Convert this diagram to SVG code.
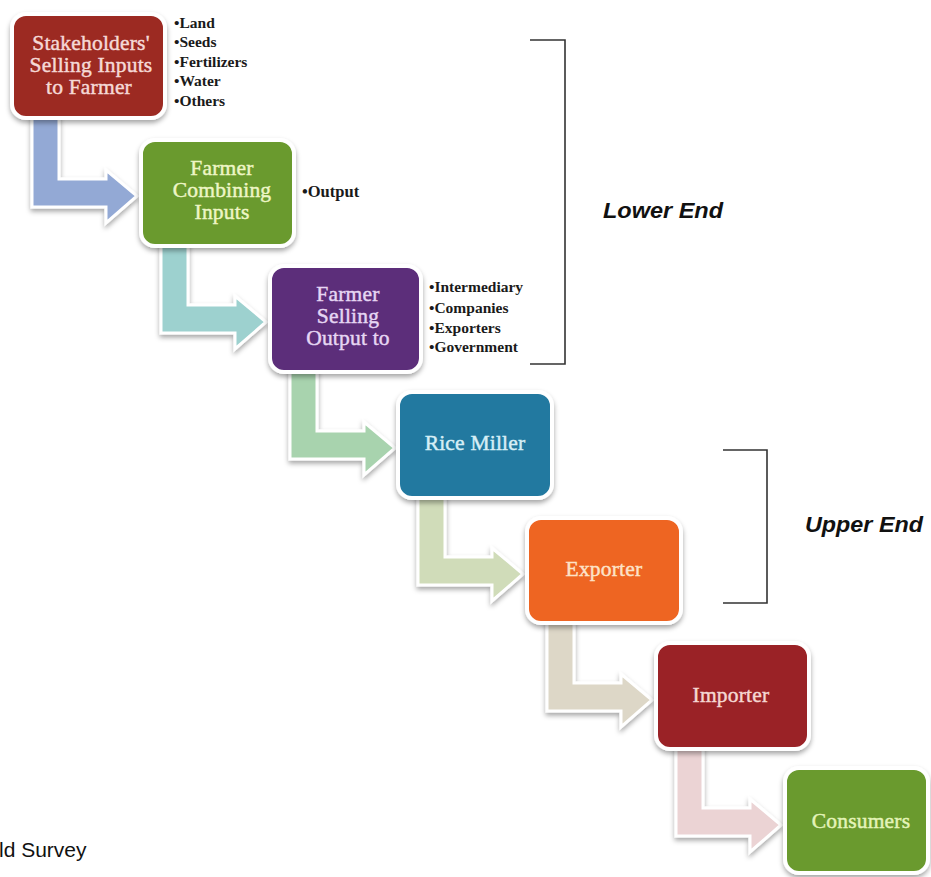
<svg xmlns="http://www.w3.org/2000/svg" xmlns:xlink="http://www.w3.org/1999/xlink" width="931" height="877" viewBox="0 0 931 877">
<style>
.box{stroke:#ffffff;stroke-width:4;filter:url(#sh)}
.arr{stroke:#ffffff;stroke-width:3;stroke-linejoin:miter;filter:url(#sh)}
.nt{font-family:"Liberation Serif","DejaVu Serif",serif;font-size:21.5px;text-anchor:middle;stroke-width:0.45;letter-spacing:0.2px}
.li{font-family:"Liberation Serif","DejaVu Serif",serif;font-size:15.5px;font-weight:bold;fill:#1a1a1a}
.br{fill:none;stroke:#333333;stroke-width:1.6}
.lab{font-family:"Liberation Sans",Arial,sans-serif;font-size:22px;font-weight:bold;font-style:italic;fill:#111111}
</style>
<defs>
<filter id="sh" x="-20%" y="-20%" width="140%" height="150%">
<feDropShadow dx="0" dy="3" stdDeviation="2.5" flood-color="#000000" flood-opacity="0.35"/>
</filter>
<path id="arrow" d="M20,100 H47 V165 H94 V156 L125,182 L94,209 V193 H20 Z"/>
</defs>
<rect width="931" height="877" fill="#ffffff"/>

<g id="connectors">
<use xlink:href="#arrow" class="arr" fill="#93a9d5" transform="translate(12,14)"/>
<use xlink:href="#arrow" class="arr" fill="#9dd1cf" transform="translate(141,140)"/>
<use xlink:href="#arrow" class="arr" fill="#a8d3ae" transform="translate(270,266)"/>
<use xlink:href="#arrow" class="arr" fill="#d0dcb9" transform="translate(398,392)"/>
<use xlink:href="#arrow" class="arr" fill="#ddd7c7" transform="translate(527,518)"/>
<use xlink:href="#arrow" class="arr" fill="#ebd3d4" transform="translate(656,643)"/>
</g>

<g id="n1">
<rect class="box" x="12" y="14" width="153" height="104" rx="14" fill="#9c2a24"/>
<text class="nt" fill="#f5d9d6" stroke="#f5d9d6"><tspan x="91" y="50">Stakeholders'</tspan><tspan x="91" y="72">Selling Inputs</tspan><tspan x="89" y="94">to Farmer</tspan></text>
</g>
<g id="n1-list">
<text class="li"><tspan x="174" y="28">•Land</tspan><tspan x="174" y="47">•Seeds</tspan><tspan x="174" y="67">•Fertilizers</tspan><tspan x="174" y="86">•Water</tspan><tspan x="174" y="106">•Others</tspan></text>
</g>

<g id="n2">
<rect class="box" x="141" y="140" width="153" height="106" rx="14" fill="#6a9a2e"/>
<text class="nt" fill="#eef6c6" stroke="#eef6c6"><tspan x="222" y="175">Farmer</tspan><tspan x="222" y="197">Combining</tspan><tspan x="222" y="219">Inputs</tspan></text>
</g>
<g id="n2-list">
<text class="li" style="font-size:16.5px"><tspan x="302" y="197">•Output</tspan></text>
</g>

<g id="n3">
<rect class="box" x="270" y="266" width="151" height="106" rx="14" fill="#5b2d7a"/>
<text class="nt" fill="#e6d6f3" stroke="#e6d6f3"><tspan x="348" y="301">Farmer</tspan><tspan x="348" y="323">Selling</tspan><tspan x="348" y="345">Output to</tspan></text>
</g>
<g id="n3-list">
<text class="li"><tspan x="429" y="292">•Intermediary</tspan><tspan x="429" y="313">•Companies</tspan><tspan x="429" y="333">•Exporters</tspan><tspan x="429" y="352">•Government</tspan></text>
</g>

<g id="n4">
<rect class="box" x="398" y="392" width="154" height="106" rx="14" fill="#2479a0"/>
<text class="nt" fill="#d6eef6" stroke="#d6eef6" x="475" y="450">Rice Miller</text>
</g>

<g id="n5">
<rect class="box" x="527" y="518" width="154" height="105" rx="14" fill="#ee6524"/>
<text class="nt" fill="#fde2c8" stroke="#fde2c8" x="604" y="576">Exporter</text>
</g>

<g id="n6">
<rect class="box" x="656" y="643" width="153" height="106" rx="14" fill="#9a2327"/>
<text class="nt" fill="#f5d7d2" stroke="#f5d7d2" x="731" y="702">Importer</text>
</g>

<g id="n7">
<rect class="box" x="785" y="768" width="143" height="105" rx="14" fill="#6a9a2e"/>
<text class="nt" fill="#e4f4b9" stroke="#e4f4b9" x="861" y="828">Consumers</text>
</g>

<g id="brackets">
<path class="br" d="M530,40 H565 V364 H530"/>
<path class="br" d="M723,450 H767 V603 H723"/>
<text class="lab" x="603" y="218" textLength="120" lengthAdjust="spacingAndGlyphs">Lower End</text>
<text class="lab" x="805" y="532" textLength="118" lengthAdjust="spacingAndGlyphs">Upper End</text>
</g>

<text x="-1" y="857" style="font-family:'Liberation Sans',Arial,sans-serif;font-size:21px;fill:#111111">ld Survey</text>
</svg>
